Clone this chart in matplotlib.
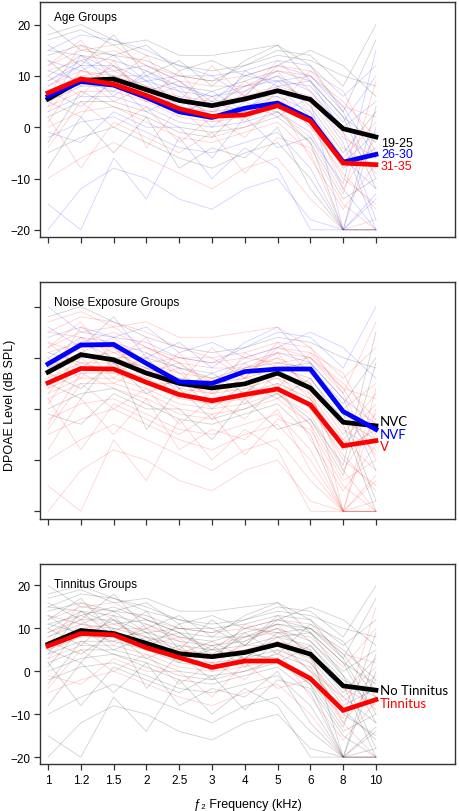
import matplotlib
matplotlib.use("Agg")
import matplotlib.pyplot as plt
import numpy as np

plt.rcParams['font.family'] = ['Liberation Sans', 'DejaVu Sans']

freq_labels = ["1", "1.2", "1.5", "2", "2.5", "3", "4", "5", "6", "8", "10"]
y_ticks = [-20, -10, 0, 10, 20]

# Group means (dB SPL)
age_19_25 = [5.5, 9.1, 9.4, 7.3, 5.2, 4.2, 5.5, 7.1, 5.4, -0.3, -1.9]
age_26_30 = [6.0, 8.9, 8.2, 5.8, 3.0, 1.9, 3.7, 4.7, 1.6, -6.8, -5.3]
age_31_35 = [6.7, 9.4, 8.4, 6.2, 3.6, 2.1, 2.4, 4.2, 1.2, -7.0, -7.3]

noise_nvc = [7.2, 10.6, 9.6, 7.0, 5.0, 4.1, 4.9, 7.0, 4.1, -2.6, -3.3]
noise_nvf = [8.8, 12.5, 12.6, 8.9, 5.3, 5.0, 7.3, 7.8, 7.8, -0.5, -4.0]
noise_v = [5.1, 7.9, 7.8, 5.2, 2.8, 1.6, 2.8, 3.9, 0.8, -7.2, -6.2]

tin_no = [6.3, 9.5, 8.8, 6.5, 4.1, 3.4, 4.4, 6.3, 4.0, -3.4, -4.4]
tin_yes = [5.9, 8.8, 8.5, 5.5, 3.2, 0.9, 2.4, 2.4, -1.7, -9.1, -6.6]

# Individual ears (approximate, estimated from the faint background traces)
individual = [
    [18, 20, 17, 14, 12, 11, 12, 14, 13, 10, 8],
    [15, 18, 17, 15, 12, 10, 11, 13, 12, 6, 12],
    [12, 15, 16, 12, 10, 9, 10, 12, 11, 4, 2],
    [10, 14, 13, 11, 8, 7, 9, 11, 9, 2, -3],
    [9, 12, 12, 9, 7, 6, 7, 10, 7, 0, 5],
    [8, 11, 10, 8, 6, 5, 6, 8, 6, -2, -6],
    [7, 10, 11, 8, 5, 4, 5, 7, 5, -4, -8],
    [6, 9, 9, 7, 4, 3, 4, 6, 3, -6, -12],
    [5, 8, 8, 6, 3, 2, 3, 5, 2, -8, -4],
    [4, 7, 7, 5, 2, 1, 2, 4, 1, -10, -15],
    [3, 6, 6, 4, 1, 0, 1, 3, -1, -12, -20],
    [2, 5, 5, 3, 0, -1, 0, 2, -3, -14, -10],
    [0, 3, 4, 1, -2, -3, -1, 1, -5, -20, -20],
    [-2, 1, 2, -1, -4, -5, -3, -1, -8, -20, -14],
    [-5, -2, 0, -3, -6, -8, -5, -3, -10, -20, -20],
    [-10, -6, -3, -6, -9, -12, -8, -6, -14, -20, -18],
    [-20, -12, -8, -10, -14, -16, -12, -10, -18, -20, -20],
    [14, 16, 14, 13, 10, 9, 12, 15, 14, 8, 20],
    [11, 13, 15, 12, 9, 8, 8, 11, 10, 5, -2],
    [9, 13, 10, 10, 8, 6, 8, 9, 8, 1, 10],
    [13, 8, 12, 7, 9, 4, 8, 10, 4, -5, 3],
    [1, 10, 5, 8, 2, 6, 1, 7, 0, -9, -16],
    [7, 4, 9, 3, 6, 0, 5, 2, 6, -3, -20],
    [-4, 5, 0, 4, -3, 2, -2, 5, -6, -16, -7],
    [16, 12, 18, 10, 13, 8, 13, 16, 9, 2, -12],
    [4, 14, 8, 9, 3, 5, 3, 9, 5, -20, 0],
    [10, 6, 13, 5, 11, 3, 9, 4, 11, 7, -5],
    [-8, 2, -5, 2, -8, -4, -6, 0, -12, -20, -20],
    [-1, -3, 3, 0, 0, -6, 2, -4, -2, -11, 15],
    [12, 17, 9, 14, 5, 12, 6, 13, 7, -1, -9],
    [-15, -20, -6, -14, -2, -10, -4, -8, -20, -20, -13],
    [20, 15, 14, 16, 11, 13, 10, 12, 15, 12, 6],
    [2, -8, 1, -2, -5, -1, -9, -2, -4, -15, -20],
    [8, 12, 6, 11, 7, 2, 11, 8, 2, -7, -1],
    [5, 2, 10, -4, 4, -2, 0, 3, -2, -13, 9],
    [17, 19, 16, 17, 14, 14, 15, 16, 12, 3, 17],
    [13, 11, 14, 9, 10, 10, 6, 12, 10, 3, -10],
    [6, 16, 12, 6, 8, 1, 7, 11, 3, -12, -2],
    [-3, 7, 4, 2, -1, -2, 4, 3, -3, -20, 4],
    [11, 9, 7, 10, 4, 7, 3, 8, 9, -1, -18],
    [3, 11, 9, 5, 5, 3, 6, 6, 0, -6, 1],
    [15, 14, 11, 12, 9, 5, 10, 9, 10, 4, -6],
]

# Group membership of each individual in each panel (0 black, 1 blue, 2 red)
age_member = [0, 1, 2, 0, 1, 2, 2, 1, 0, 2, 1, 0, 2, 1, 0, 2, 1, 0, 2, 1,
              0, 2, 1, 2, 0, 1, 2, 0, 1, 2, 1, 0, 2, 1, 2, 0, 1, 2, 0, 1, 2, 1]
noise_member = [0, 2, 2, 1, 2, 0, 2, 2, 0, 2, 2, 2, 0, 2, 2, 2, 2, 1, 2, 0,
                2, 2, 0, 2, 1, 2, 2, 2, 0, 2, 2, 1, 2, 2, 0, 2, 2, 2, 2, 0, 2, 2]
tin_member = [0, 0, 2, 0, 0, 0, 2, 0, 0, 0, 2, 0, 0, 0, 2, 0, 0, 0, 0, 2,
              0, 0, 0, 2, 0, 0, 0, 0, 2, 0, 0, 0, 0, 2, 0, 0, 0, 2, 0, 0, 2, 0]

BLACK, BLUE, RED = "#000000", "#0000ff", "#ff0000"
cols3 = [BLACK, BLUE, RED]
tin_cols = {0: BLACK, 2: RED}

fig = plt.figure(figsize=(4.6, 8.12), dpi=100)
W, H = 460, 812
def add_ax(top, bottom):
    return fig.add_axes([40 / W, 1 - bottom / H, 415 / W, (bottom - top) / H])

ax1 = add_ax(3, 238)
ax2 = add_ax(283, 520)
ax3 = add_ax(565, 765)
x = np.arange(len(freq_labels))

def style(ax, ylim, show_y, show_x):
    ax.set_xlim(-0.244, 12.41)
    ax.set_ylim(*ylim)
    ax.set_xticks(x)
    ax.set_yticks(y_ticks)
    ax.tick_params(direction='out', length=4.5, width=0.9, color='#333333',
                   labelsize=8.5, pad=2.5)
    if not show_y:
        ax.set_yticklabels([])
    if show_x:
        ax.set_xticklabels(freq_labels)
    else:
        ax.set_xticklabels([])
    for s in ax.spines.values():
        s.set_color('#333333')
        s.set_linewidth(1.0)

def draw_ind(ax, member, cmap):
    for trace, g in zip(individual, member):
        ax.plot(x, trace, color=cmap[g], lw=0.6, alpha=0.18, zorder=1)

LW = 3.4
# Panel 1: Age
draw_ind(ax1, age_member, cols3)
ax1.plot(x, age_19_25, color=BLACK, lw=LW, zorder=3, solid_joinstyle='miter')
ax1.plot(x, age_26_30, color=BLUE, lw=LW, zorder=4, solid_joinstyle='miter')
ax1.plot(x, age_31_35, color=RED, lw=LW, zorder=5, solid_joinstyle='miter')
style(ax1, (-21.4, 24.4), True, False)
ax1.text(10.15, -3.1, "19-25", color=BLACK, fontsize=9, va='center')
ax1.text(10.15, -5.3, "26-30", color=BLUE, fontsize=9, va='center')
ax1.text(10.15, -7.5, "31-35", color=RED, fontsize=9, va='center')
ax1.text(0.033, 0.935, "Age Groups", transform=ax1.transAxes, fontsize=8.5, va='center')

# Panel 2: Noise exposure
draw_ind(ax2, noise_member, cols3)
ax2.plot(x, noise_nvc, color=BLACK, lw=LW, zorder=3, solid_joinstyle='miter')
ax2.plot(x, noise_v, color=RED, lw=LW, zorder=4, solid_joinstyle='miter')
ax2.plot(x, noise_nvf, color=BLUE, lw=LW, zorder=5, solid_joinstyle='miter')
style(ax2, (-21.5, 24.8), False, False)
lab_font = ['Lato', 'DejaVu Sans']
ax2.text(10.12, -2.3, "NVC", color=BLACK, fontsize=9.5, va='center', family=lab_font)
ax2.text(10.12, -4.8, "NVF", color=BLUE, fontsize=9.5, va='center', family=lab_font)
ax2.text(10.12, -7.2, "V", color=RED, fontsize=9.5, va='center', family=lab_font)
ax2.text(0.033, 0.915, "Noise Exposure Groups", transform=ax2.transAxes, fontsize=8.5, va='center')
fig.text(10 / W, 1 - 405 / H, "DPOAE Level (dB SPL)", rotation=90, fontsize=9,
         ha='center', va='center')

# Panel 3: Tinnitus
draw_ind(ax3, tin_member, tin_cols)
ax3.plot(x, tin_no, color=BLACK, lw=LW, zorder=3, solid_joinstyle='miter')
ax3.plot(x, tin_yes, color=RED, lw=LW, zorder=4, solid_joinstyle='miter')
style(ax3, (-21.6, 25.0), True, True)
ax3.text(10.12, -4.3, "No Tinnitus", color=BLACK, fontsize=9.5, va='center', family=lab_font)
ax3.text(10.12, -7.4, "Tinnitus", color=RED, fontsize=9.5, va='center', family=lab_font)
ax3.text(0.033, 0.9, "Tinnitus Groups", transform=ax3.transAxes, fontsize=8.5, va='center')
ax3.set_xlabel("ƒ\u2082 Frequency (kHz)", fontsize=9, labelpad=9)

fig.savefig("out.png", dpi=100)
